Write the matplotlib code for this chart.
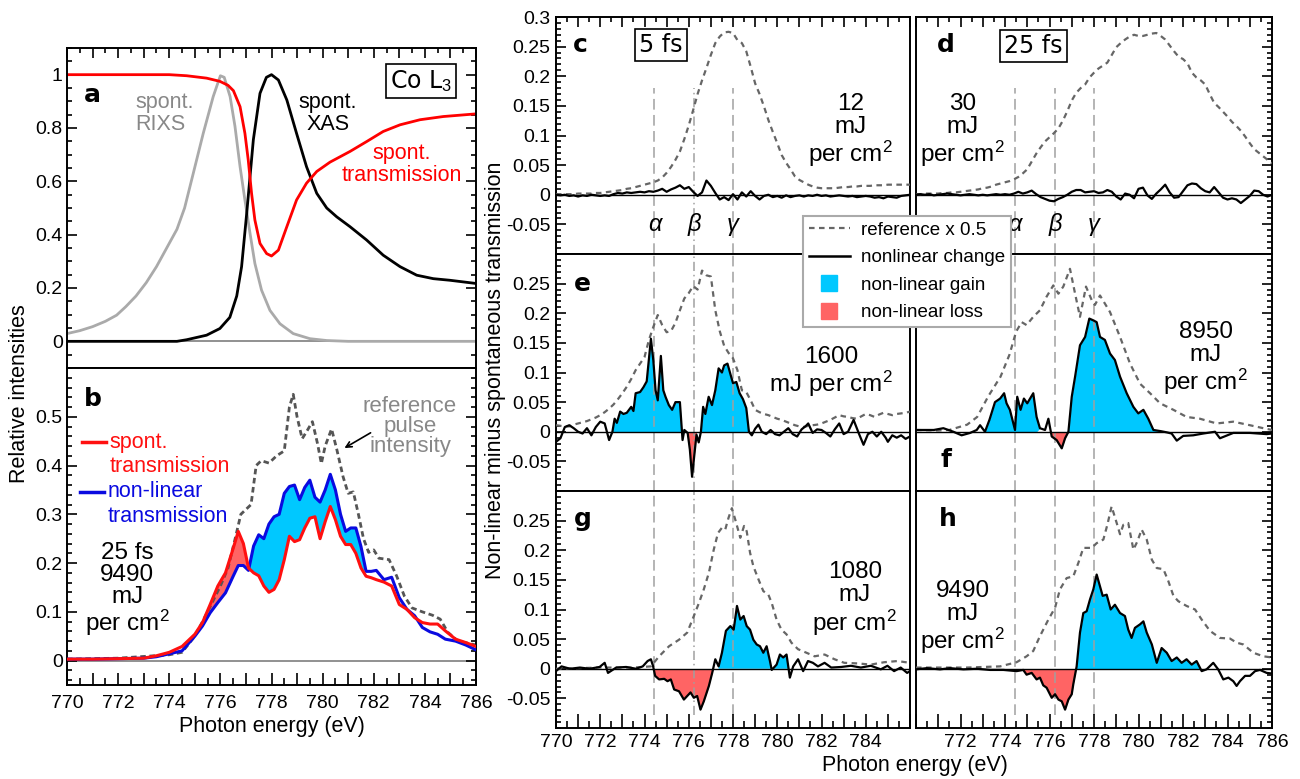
import numpy as np
import matplotlib
matplotlib.use("Agg")
import matplotlib.pyplot as plt
from matplotlib.ticker import MultipleLocator, FixedLocator, FuncFormatter
from matplotlib.lines import Line2D

plt.rcParams['font.family'] = ['Liberation Sans', 'DejaVu Sans']
plt.rcParams['mathtext.fontset'] = 'custom'
plt.rcParams['mathtext.rm'] = 'Liberation Sans'
plt.rcParams['mathtext.it'] = 'Liberation Sans:italic'
plt.rcParams['axes.unicode_minus'] = False
plt.rcParams['axes.linewidth'] = 1.4

GAIN = '#00c8ff'
LOSS = '#ff6464'

# ---------------- panel a: spontaneous spectra (energy eV, relative intensity)
a_rixs = [(770, 0.029), (770.5, 0.04), (771.0, 0.055), (771.5, 0.075), (771.94, 0.098), (772.3, 0.13),
          (772.7, 0.17), (773.1, 0.22), (773.5, 0.28), (773.9, 0.35), (774.3, 0.42), (774.6, 0.50),
          (774.94, 0.63), (775.33, 0.78), (775.72, 0.918), (776.0, 0.996), (776.15, 0.99), (776.38, 0.918),
          (776.57, 0.807), (776.77, 0.655), (776.96, 0.53), (777.16, 0.405), (777.35, 0.292), (777.61, 0.192),
          (777.94, 0.116), (778.33, 0.066), (778.85, 0.029), (779.5, 0.01), (780.16, 0.003), (781.0, 0.0),
          (786, 0.0)]
a_xas = [(770, 0.0), (774.3, 0.0), (774.68, 0.006), (775.46, 0.023), (775.98, 0.048), (776.37, 0.09),
         (776.64, 0.17), (776.83, 0.28), (777.03, 0.48), (777.29, 0.756), (777.55, 0.93), (777.8, 0.99),
         (778.0, 1.0), (778.27, 0.98), (778.6, 0.905), (778.98, 0.78), (779.37, 0.655), (779.77, 0.555),
         (780.16, 0.50), (780.55, 0.467), (781.07, 0.43), (781.72, 0.38), (782.37, 0.323), (783.03, 0.28),
         (783.68, 0.248), (784.33, 0.235), (784.98, 0.229), (786, 0.217)]
a_trans = [(770, 1.0), (774.0, 1.0), (774.68, 0.996), (775.46, 0.987), (775.98, 0.975), (776.3, 0.96),
           (776.51, 0.94), (776.77, 0.88), (776.96, 0.78), (777.09, 0.68), (777.22, 0.555), (777.35, 0.455),
           (777.55, 0.367), (777.81, 0.329), (778.0, 0.32), (778.27, 0.342), (778.6, 0.43), (778.98, 0.53),
           (779.37, 0.593), (779.77, 0.637), (780.29, 0.672), (781.07, 0.712), (781.72, 0.749),
           (782.37, 0.787), (783.03, 0.812), (783.81, 0.831), (784.72, 0.843), (786, 0.853)]

# ---------------- panel b: 25 fs, 9490 mJ/cm2
b_energy = [770, 771, 772, 773, 773.5, 774, 774.5, 775, 775.3, 775.6, 775.9, 776.2, 776.5, 776.7,
            776.9, 777.1, 777.3, 777.5, 777.7, 777.9, 778.1, 778.3, 778.5, 778.7, 778.9, 779.1, 779.3,
            779.5, 779.7, 779.9, 780.1, 780.3, 780.5, 780.7, 780.9, 781.1, 781.3, 781.5, 781.7, 781.9,
            782.1, 782.4, 782.7, 783.0, 783.3, 783.6, 783.9, 784.2, 784.5, 784.8, 785.2, 785.6, 786]
b_spont = [0.003, 0.003, 0.004, 0.005, 0.01, 0.017, 0.029, 0.054, 0.078, 0.115, 0.153, 0.18, 0.23, 0.265,
           0.24, 0.19, 0.18, 0.174, 0.153, 0.14, 0.146, 0.166, 0.207, 0.255, 0.244, 0.248, 0.272,
           0.292, 0.295, 0.25, 0.285, 0.316, 0.289, 0.255, 0.238, 0.238, 0.22, 0.19, 0.173, 0.17,
           0.166, 0.161, 0.153, 0.115, 0.105, 0.088, 0.078, 0.075, 0.075, 0.061, 0.044, 0.037, 0.029]
b_nonlin = [0.003, 0.003, 0.004, 0.005, 0.008, 0.014, 0.02, 0.05, 0.071, 0.098, 0.119, 0.139, 0.173, 0.195,
            0.195, 0.185, 0.235, 0.258, 0.25, 0.28, 0.295, 0.30, 0.343, 0.357, 0.36, 0.33, 0.355,
            0.37, 0.335, 0.325, 0.35, 0.382, 0.35, 0.30, 0.265, 0.272, 0.272, 0.234, 0.183, 0.183,
            0.185, 0.166, 0.171, 0.129, 0.105, 0.092, 0.068, 0.059, 0.054, 0.044, 0.04, 0.032, 0.022]
b_reference = [(770, 0.003), (772, 0.005), (774, 0.012), (774.5, 0.017), (775, 0.05), (775.5, 0.1),
               (776, 0.153), (776.3, 0.19), (776.6, 0.255), (776.8, 0.30), (777.0, 0.31), (777.2, 0.32),
               (777.4, 0.40), (777.6, 0.41), (777.9, 0.405), (778.2, 0.42), (778.5, 0.43), (778.7, 0.52),
               (778.85, 0.546), (779.0, 0.50), (779.2, 0.455), (779.4, 0.472), (779.6, 0.49), (779.8, 0.445),
               (779.95, 0.404), (780.1, 0.44), (780.35, 0.475), (780.55, 0.434), (780.8, 0.377),
               (781.0, 0.343), (781.2, 0.346), (781.4, 0.30), (781.6, 0.25), (781.8, 0.222), (782.0, 0.227),
               (782.2, 0.21), (782.6, 0.207), (782.9, 0.173), (783.2, 0.132), (783.5, 0.108), (783.9, 0.10),
               (784.3, 0.093), (784.6, 0.085), (784.9, 0.058), (785.3, 0.04), (786, 0.032)]

# ---------------- panels c-h: nonlinear minus spontaneous transmission
grid = np.round(np.arange(770.0, 786.01, 0.2), 1)   # 0.2 eV read-out grid for c, d, e-reference

c_reference = [0.001, 0.001, 0.001, 0.001, 0.001, 0.002, 0.002, 0.002, 0.002, 0.003,
               0.003, 0.004, 0.005, 0.006, 0.007, 0.008, 0.010, 0.011, 0.013, 0.015,
               0.017, 0.019, 0.021, 0.024, 0.029, 0.037, 0.047, 0.059, 0.073, 0.094,
               0.117, 0.143, 0.170, 0.193, 0.214, 0.236, 0.256, 0.267, 0.274, 0.275,
               0.273, 0.261, 0.256, 0.242, 0.216, 0.188, 0.170, 0.149, 0.126, 0.106,
               0.087, 0.067, 0.054, 0.043, 0.031, 0.025, 0.021, 0.017, 0.014, 0.012,
               0.011, 0.011, 0.011, 0.011, 0.012, 0.013, 0.013, 0.014, 0.014, 0.015,
               0.015, 0.015, 0.016, 0.016, 0.016, 0.017, 0.017, 0.017, 0.017, 0.017, 0.017]
c_change = [0.0, -0.001, 0.0, -0.002, -0.001, -0.003, -0.001, -0.002, 0.0, -0.001,
            -0.002, -0.001, -0.002, 0.001, 0.003, 0.002, 0.004, 0.003, 0.004, 0.005,
            0.004, 0.006, 0.005, 0.007, 0.010, 0.005, 0.009, 0.012, 0.016, 0.010,
            0.013, 0.005, -0.002, 0.004, 0.024, 0.015, 0.003, -0.008, -0.004, -0.009,
            0.001, -0.008, 0.004, -0.003, 0.006, -0.002, -0.008, -0.002, 0.0, -0.004,
            -0.002, -0.005, -0.001, -0.004, -0.002, -0.001, -0.003, -0.001, -0.002, 0.0,
            -0.002, -0.001, -0.003, -0.002, -0.001, -0.002, -0.003, -0.002, -0.004, -0.003,
            -0.002, -0.003, -0.005, -0.004, -0.006, -0.003, -0.004, -0.005, -0.002, -0.001, 0.0]

d_reference = [0.001, 0.001, 0.002, 0.002, 0.002, 0.002, 0.003, 0.003, 0.004, 0.004,
               0.005, 0.006, 0.007, 0.008, 0.009, 0.011, 0.012, 0.014, 0.017, 0.019,
               0.021, 0.023, 0.026, 0.030, 0.036, 0.043, 0.056, 0.069, 0.080, 0.090,
               0.097, 0.104, 0.112, 0.125, 0.141, 0.159, 0.172, 0.180, 0.186, 0.198,
               0.206, 0.213, 0.218, 0.223, 0.236, 0.249, 0.256, 0.262, 0.267, 0.270,
               0.268, 0.268, 0.270, 0.272, 0.273, 0.268, 0.262, 0.252, 0.242, 0.233,
               0.229, 0.222, 0.206, 0.198, 0.193, 0.186, 0.170, 0.155, 0.148, 0.140,
               0.132, 0.123, 0.116, 0.108, 0.098, 0.087, 0.077, 0.071, 0.065, 0.059, 0.053]
d_change = [0.0, 0.001, 0.0, 0.001, -0.001, 0.0, 0.001, 0.002, 0.001, 0.0,
            -0.001, 0.0, 0.001, 0.0, -0.001, 0.0, -0.001, 0.0, 0.001, 0.0,
            0.001, 0.0, 0.002, 0.005, 0.002, 0.004, 0.007, 0.001, -0.004, -0.007,
            -0.010, -0.011, -0.007, -0.004, 0.0, 0.005, 0.008, 0.008, 0.004, 0.005,
            0.006, 0.003, 0.004, 0.008, 0.005, -0.003, -0.008, 0.002, 0.0, -0.006,
            0.010, 0.012, -0.001, -0.007, 0.002, 0.009, 0.017, 0.004, -0.005, -0.004,
            0.006, 0.016, 0.019, 0.018, 0.011, 0.006, 0.004, 0.013, 0.004, -0.005,
            -0.008, -0.006, -0.008, -0.014, -0.008, -0.002, 0.007, 0.006, 0.0, -0.003, 0.0]

e_reference = [0.011, 0.010, 0.009, 0.009, 0.012, 0.014, 0.016, 0.018, 0.021, 0.024,
               0.028, 0.033, 0.039, 0.046, 0.055, 0.065, 0.076, 0.089, 0.104, 0.115,
               0.126, 0.155, 0.177, 0.197, 0.180, 0.168, 0.170, 0.184, 0.205, 0.225,
               0.234, 0.246, 0.240, 0.272, 0.264, 0.262, 0.205, 0.170, 0.145, 0.133,
               0.124, 0.104, 0.070, 0.067, 0.053, 0.037, 0.033, 0.030, 0.028, 0.025,
               0.022, 0.020, 0.017, 0.014, 0.011, 0.009, 0.008, 0.010, 0.011, 0.012,
               0.014, 0.017, 0.020, 0.024, 0.028, 0.026, 0.025, 0.023, 0.022, 0.026,
               0.030, 0.028, 0.025, 0.029, 0.032, 0.030, 0.028, 0.030, 0.031, 0.032, 0.034]
e_change = [(770.0, -0.017), (770.2, -0.011), (770.4, 0.008), (770.6, 0.011), (770.8, 0.006), (771.0, 0.0),
            (771.2, -0.003), (771.4, 0.006), (771.6, -0.006), (771.8, 0.008), (772.0, 0.017), (772.2, 0.014),
            (772.4, -0.014), (772.55, 0.0), (772.65, 0.022), (772.75, 0.015), (772.9, 0.034), (773.05, 0.03),
            (773.2, 0.032), (773.4, 0.042), (773.5, 0.035), (773.6, 0.065), (773.8, 0.067), (773.95, 0.075),
            (774.1, 0.085), (774.29, 0.157), (774.4, 0.12), (774.5, 0.07), (774.6, 0.053), (774.74, 0.128),
            (774.85, 0.07), (774.95, 0.059), (775.1, 0.045), (775.25, 0.037), (775.4, 0.05), (775.6, 0.05),
            (775.72, -0.014), (775.8, 0.003), (775.95, -0.002), (776.05, -0.03), (776.15, -0.076),
            (776.25, -0.04), (776.35, -0.005), (776.45, -0.018), (776.55, 0.0), (776.65, 0.042),
            (776.75, 0.03), (776.9, 0.059), (777.05, 0.045), (777.2, 0.07), (777.35, 0.107), (777.5, 0.1),
            (777.6, 0.112), (777.75, 0.115), (777.9, 0.095), (778.0, 0.082), (778.15, 0.084), (778.3, 0.065),
            (778.45, 0.055), (778.6, 0.04), (778.72, 0.0), (778.85, -0.006), (779.0, 0.005), (779.15, 0.012),
            (779.3, 0.0), (779.5, -0.004), (779.7, 0.003), (779.9, -0.004), (780.1, -0.006), (780.3, 0.0),
            (780.5, 0.006), (780.7, -0.004), (780.9, -0.008), (781.1, 0.004), (781.3, 0.01), (781.4, 0.014),
            (781.6, -0.002), (781.8, 0.004), (782.0, 0.003), (782.2, -0.002), (782.4, -0.008), (782.6, 0.004),
            (782.8, 0.014), (783.0, -0.004), (783.2, 0.0), (783.45, 0.02), (783.7, -0.004), (783.9, -0.022),
            (784.1, -0.004), (784.3, 0.0), (784.5, -0.008), (784.7, 0.0), (784.9, -0.01), (785.0, -0.017),
            (785.2, -0.006), (785.4, -0.01), (785.6, -0.006), (785.8, -0.012), (786.0, -0.008)]

f_reference = [(770, 0.003), (771, 0.002), (771.5, 0.003), (772.3, 0.012), (772.75, 0.025), (773.25, 0.06),
               (773.8, 0.093), (774.2, 0.13), (774.5, 0.169), (774.75, 0.185), (774.97, 0.18), (775.27, 0.194),
               (775.57, 0.205), (775.87, 0.228), (776.17, 0.247), (776.4, 0.233), (776.62, 0.245),
               (776.92, 0.275), (777.15, 0.233), (777.37, 0.194), (777.64, 0.245), (777.9, 0.222),
               (778.04, 0.214), (778.27, 0.23), (778.72, 0.202), (779.17, 0.16), (779.62, 0.115),
               (780.07, 0.081), (780.52, 0.065), (780.97, 0.048), (781.57, 0.037), (782.16, 0.025),
               (782.76, 0.022), (783.51, 0.014), (784.26, 0.017), (785.01, 0.011), (785.61, 0.006), (786, 0.003)]
f_change = [(770, 0.003), (770.8, 0.003), (771.23, 0.006), (771.68, 0.0), (772.05, -0.006), (772.43, -0.002),
            (772.73, 0.003), (772.88, 0.011), (773.1, 0.0), (773.3, 0.02), (773.55, 0.05), (773.78, 0.056),
            (773.96, 0.065), (774.07, 0.048), (774.22, 0.037), (774.45, 0.003), (774.55, 0.059), (774.7, 0.037),
            (774.85, 0.056), (775.0, 0.048), (775.27, 0.065), (775.42, 0.025), (775.57, 0.006), (775.8, 0.003),
            (775.95, 0.022), (776.1, -0.008), (776.32, -0.014), (776.55, -0.028), (776.7, -0.011),
            (776.85, 0.0), (777.0, 0.059), (777.15, 0.093), (777.37, 0.146), (777.6, 0.16), (777.79, 0.191),
            (777.97, 0.188), (778.12, 0.185), (778.27, 0.16), (778.49, 0.155), (778.72, 0.132),
            (778.94, 0.121), (779.17, 0.093), (779.47, 0.065), (779.77, 0.042), (779.99, 0.031),
            (780.22, 0.037), (780.44, 0.022), (780.67, 0.003), (781.0, 0.001), (781.27, -0.001),
            (781.49, -0.003), (781.72, -0.015), (782.01, -0.007), (782.46, -0.006), (782.91, -0.003),
            (783.44, 0.0), (783.66, -0.011), (784.26, -0.002), (785.01, -0.002), (785.76, -0.004), (786, -0.003)]

g_reference = [(770, 0.0), (772, 0.002), (773.5, 0.002), (774.29, 0.004), (774.66, 0.021), (775.11, 0.038),
               (775.56, 0.049), (775.93, 0.061), (776.23, 0.089), (776.46, 0.111), (776.68, 0.134),
               (776.91, 0.162), (777.13, 0.201), (777.32, 0.229), (777.5, 0.238), (777.65, 0.235),
               (777.8, 0.255), (777.95, 0.271), (778.1, 0.252), (778.33, 0.221), (778.5, 0.241),
               (778.62, 0.232), (778.77, 0.196), (778.92, 0.173), (779.15, 0.151), (779.37, 0.131),
               (779.6, 0.125), (779.75, 0.111), (779.97, 0.083), (780.19, 0.066), (780.42, 0.058),
               (780.64, 0.044), (780.94, 0.033), (781.32, 0.027), (781.69, 0.021), (782.14, 0.024),
               (782.59, 0.016), (783.03, 0.01), (783.63, 0.009), (784.23, 0.007), (784.83, 0.011),
               (785.43, 0.013), (786, 0.01)]
g_change = [(770, -0.004), (770.25, 0.004), (770.63, 0.0), (771.08, 0.002), (771.52, 0.0), (771.97, 0.003),
            (772.2, 0.01), (772.35, -0.007), (772.72, 0.002), (773.17, 0.003), (773.62, 0.0), (773.92, 0.004),
            (774.14, 0.013), (774.29, 0.016), (774.39, 0.004), (774.48, -0.012), (774.66, -0.018),
            (774.89, -0.017), (775.04, -0.021), (775.19, -0.018), (775.34, -0.035), (775.56, -0.038),
            (775.78, -0.052), (775.93, -0.046), (776.08, -0.04), (776.23, -0.049), (776.38, -0.046),
            (776.53, -0.069), (776.68, -0.055), (776.91, -0.029), (777.06, -0.007), (777.2, 0.016),
            (777.35, 0.004), (777.5, 0.027), (777.68, 0.064), (777.88, 0.072), (778.03, 0.066),
            (778.18, 0.106), (778.33, 0.083), (778.48, 0.089), (778.62, 0.072), (778.77, 0.066),
            (778.92, 0.049), (779.07, 0.041), (779.22, 0.038), (779.37, 0.027), (779.52, 0.038),
            (779.67, 0.013), (779.75, -0.002), (779.97, 0.007), (780.12, 0.024), (780.27, 0.019),
            (780.42, 0.024), (780.57, -0.015), (780.72, 0.004), (780.94, 0.016), (781.17, -0.004),
            (781.39, 0.013), (781.61, 0.01), (781.84, 0.004), (782.14, 0.01), (782.44, 0.002), (782.89, 0.003),
            (783.33, 0.005), (783.78, 0.002), (784.23, 0.005), (784.68, -0.001), (784.98, 0.005),
            (785.28, -0.004), (785.58, 0.002), (785.87, -0.007), (786, -0.004)]

h_reference = [(770, 0.002), (772.28, 0.002), (773.78, 0.004), (774.52, 0.011), (774.97, 0.021), (775.27, 0.03),
               (775.57, 0.055), (775.95, 0.083), (776.25, 0.103), (776.47, 0.134), (776.77, 0.153),
               (777.07, 0.156), (777.3, 0.179), (777.52, 0.204), (777.9, 0.204), (778.12, 0.212),
               (778.42, 0.218), (778.6, 0.243), (778.79, 0.274), (779.02, 0.246), (779.17, 0.227),
               (779.32, 0.243), (779.54, 0.246), (779.77, 0.201), (779.95, 0.215), (780.14, 0.235),
               (780.37, 0.218), (780.6, 0.184), (780.82, 0.17), (781.12, 0.168), (781.34, 0.148),
               (781.57, 0.123), (781.79, 0.114), (782.16, 0.106), (782.54, 0.1), (782.84, 0.083),
               (783.21, 0.064), (783.66, 0.052), (784.11, 0.051), (784.41, 0.044), (784.71, 0.041),
               (785.16, 0.027), (785.61, 0.021), (786, 0.019)]
h_change = [(770, -0.001), (770.48, 0.001), (771.08, -0.001), (771.53, 0.001), (772.13, -0.001), (772.73, 0.0),
            (773.33, -0.002), (773.93, -0.002), (774.52, -0.004), (774.82, -0.002), (774.97, -0.01),
            (775.2, -0.007), (775.42, -0.018), (775.57, -0.015), (775.72, -0.028), (775.87, -0.032),
            (776.1, -0.049), (776.25, -0.043), (776.4, -0.052), (776.55, -0.055), (776.7, -0.069),
            (776.85, -0.052), (777.0, -0.043), (777.07, -0.026), (777.22, 0.004), (777.37, 0.061),
            (777.52, 0.094), (777.67, 0.097), (777.82, 0.117), (777.97, 0.134), (778.12, 0.159),
            (778.27, 0.139), (778.39, 0.123), (778.57, 0.125), (778.75, 0.1), (778.94, 0.108),
            (779.17, 0.094), (779.39, 0.089), (779.54, 0.066), (779.69, 0.052), (779.84, 0.069),
            (780.07, 0.075), (780.22, 0.08), (780.37, 0.061), (780.6, 0.041), (780.82, 0.01), (781.04, 0.035),
            (781.27, 0.027), (781.49, 0.013), (781.72, 0.019), (781.94, 0.01), (782.16, 0.016),
            (782.39, 0.007), (782.61, 0.013), (782.84, -0.004), (783.06, -0.001), (783.36, 0.01),
            (783.58, -0.001), (783.81, -0.018), (784.04, -0.015), (784.26, -0.021), (784.41, -0.029),
            (784.56, -0.021), (784.79, -0.012), (785.01, -0.012), (785.24, -0.004), (785.46, -0.002),
            (785.76, -0.007), (786, -0.008)]

# resonance markers alpha, beta, gamma (eV)
resonances = [774.45, 776.25, 778.0]
resonance_names = ['α', 'β', 'γ']

# energy spans (eV) that the authors shaded as gain / loss
gain_spans = {'e': [(772.5, 775.65), (776.5, 778.8)], 'f': [(773.2, 775.5), (776.8, 780.7)],
              'g': [(777.35, 780.5)], 'h': [(777.2, 782.9)]}
loss_spans = {'e': [(775.9, 776.4)], 'f': [(776.0, 776.85)], 'g': [(774.4, 777.15)], 'h': [(774.0, 777.25)]}


def unzip(pairs):
    arr = np.array(pairs, dtype=float)
    return arr[:, 0], arr[:, 1]


def px_axes(fig, left, top, right, bottom):
    # axes rectangle given in pixels of the 1300 x 779 canvas
    return fig.add_axes([left / 1300, 1 - bottom / 779, (right - left) / 1300, (bottom - top) / 779])


def energy_formatter(shown):
    return FuncFormatter(lambda v, p: f"{v:.0f}" if int(round(v)) in shown else "")


def setup_ticks(ax, left=False, right=False, top=False, bottom=False):
    ax.tick_params(which='both', direction='in', left=left, right=right, top=top, bottom=bottom,
                   labelleft=False, labelbottom=False, width=1.2, labelsize=14)
    ax.tick_params(which='major', length=7)
    ax.tick_params(which='minor', length=3.5)


def shade(ax, e, v, gains, losses):
    for lo, hi in gains:
        m = (e >= lo) & (e <= hi)
        ax.fill_between(e, v, 0, where=m & (v >= 0), color=GAIN, lw=0, interpolate=True, zorder=1)
    for lo, hi in losses:
        m = (e >= lo) & (e <= hi)
        ax.fill_between(e, v, 0, where=m & (v <= 0), color=LOSS, lw=0, interpolate=True, zorder=1)


fig = plt.figure(figsize=(13, 7.79), dpi=100)
letter_font = dict(family='DejaVu Sans', weight='bold', size=18)
box = dict(boxstyle='square,pad=0.18', fc='white', ec='black', lw=1.2)

# ---------------- panel a
ax_a = px_axes(fig, 67, 48, 476, 368)
ax_a.axhline(0, color='#888888', lw=1.3, zorder=1)
e, v = unzip(a_rixs)
ax_a.plot(e, v, color='#aaaaaa', lw=2)
e, v = unzip(a_xas)
ax_a.plot(e, v, color='black', lw=2)
e, v = unzip(a_trans)
ax_a.plot(e, v, color='#ff0000', lw=2)
ax_a.set_xlim(770, 786)
ax_a.set_ylim(-0.1, 1.1)
setup_ticks(ax_a, left=True, right=True, top=True)
ax_a.tick_params(labelleft=True, pad=3)
ax_a.yaxis.set_major_locator(FixedLocator([0, 0.2, 0.4, 0.6, 0.8, 1.0]))
ax_a.yaxis.set_major_formatter(FuncFormatter(lambda v, p: f"{v:g}"))
ax_a.yaxis.set_minor_locator(MultipleLocator(0.05))
ax_a.xaxis.set_major_locator(MultipleLocator(1))
ax_a.xaxis.set_minor_locator(MultipleLocator(0.5))
ax_a.text(770.98, 0.925, 'a', ha='center', va='center', **letter_font)
ax_a.text(772.66, 0.855, 'spont.\nRIXS', color='#888888', fontsize=15.5, ha='left', va='center', linespacing=1.05)
ax_a.text(780.2, 0.855, 'spont.\nXAS', color='black', fontsize=15.5, ha='center', va='center', linespacing=1.05)
ax_a.text(783.1, 0.664, 'spont.\ntransmission', color='#ff0000', fontsize=15.5, ha='center', va='center',
          linespacing=1.05)
ax_a.text(783.85, 0.976, 'Co L$_3$', family='DejaVu Sans', fontsize=17, ha='center', va='center', bbox=box)

# ---------------- panel b
ax_b = px_axes(fig, 67, 368, 476, 685)
ax_b.axhline(0, color='#888888', lw=1.3, zorder=1)
be = np.array(b_energy)
bs = np.array(b_spont)
bn = np.array(b_nonlin)
ax_b.fill_between(be, bn, bs, where=(bn >= bs) & (be >= 777.0) & (be <= 781.6), color=GAIN, lw=0,
                  interpolate=True, zorder=1)
ax_b.fill_between(be, bs, bn, where=(bs >= bn) & (be >= 775.4) & (be <= 777.3), color=LOSS, lw=0,
                  interpolate=True, zorder=1)
e, v = unzip(b_reference)
ax_b.plot(e, v, color='#555555', lw=2, ls=(0, (2, 1.3)), zorder=2)
ax_b.plot(be, bn, color='#0a0ae0', lw=2.2, zorder=3)
ax_b.plot(be, bs, color='#ff1010', lw=2.2, zorder=4)
ax_b.set_xlim(770, 786)
ax_b.set_ylim(-0.05, 0.6)
setup_ticks(ax_b, left=True, right=True, bottom=True)
ax_b.tick_params(labelleft=True, labelbottom=True)
ax_b.tick_params(axis='y', pad=3)
ax_b.tick_params(axis='x', pad=7)
ax_b.tick_params(axis='x', which='major', length=9)
ax_b.tick_params(axis='x', which='minor', length=5)
ax_b.yaxis.set_major_locator(FixedLocator([0, 0.1, 0.2, 0.3, 0.4, 0.5]))
ax_b.yaxis.set_major_formatter(FuncFormatter(lambda v, p: f"{v:g}"))
ax_b.yaxis.set_minor_locator(MultipleLocator(0.02))
ax_b.xaxis.set_major_locator(FixedLocator(list(range(770, 787))))
ax_b.xaxis.set_major_formatter(energy_formatter(range(770, 787, 2)))
ax_b.xaxis.set_minor_locator(MultipleLocator(0.5))
ax_b.text(771.0, 0.537, 'b', ha='center', va='center', **letter_font)
ax_b.text(783.42, 0.48, 'reference\npulse\nintensity', color='#888888', fontsize=16, ha='center', va='center',
          linespacing=0.95)
ax_b.annotate('', xy=(780.76, 0.433), xytext=(781.97, 0.47),
              arrowprops=dict(arrowstyle='->', color='black', lw=1.2))
ax_b.plot([770.59, 771.53], [0.449, 0.449], color='#ff1010', lw=2.5)
ax_b.text(771.68, 0.4226, 'spont.\ntransmission', color='#ff1010', fontsize=15.5, ha='left', va='center')
ax_b.plot([770.5, 771.45], [0.3456, 0.3456], color='#0a0ae0', lw=2.5)
ax_b.text(771.6, 0.3212, 'non-linear\ntransmission', color='#0a0ae0', fontsize=15.5, ha='left', va='center')
ax_b.text(772.35, 0.144, '25 fs\n9490\nmJ\nper cm$^2$', fontsize=17.5, ha='center', va='center', linespacing=1.0)
ax_b.set_xlabel('Photon energy (eV)', fontsize=15.5, labelpad=3)

fig.text(20 / 1300, 1 - 394 / 779, 'Relative intensities', rotation=90, fontsize=15.5, ha='center', va='center')

# ---------------- panels c-h
cols = [(556, 910), (916, 1272)]
rows = [(17, 254), (254, 491), (491, 728)]
names = [['c', 'd'], ['e', 'f'], ['g', 'h']]
reference = {'c': (grid, np.array(c_reference)), 'd': (grid, np.array(d_reference)),
             'e': (grid, np.array(e_reference)), 'f': unzip(f_reference),
             'g': unzip(g_reference), 'h': unzip(h_reference)}
change = {'c': (grid, np.array(c_change)), 'd': (grid, np.array(d_change)),
          'e': unzip(e_change), 'f': unzip(f_change), 'g': unzip(g_change), 'h': unzip(h_change)}
axes = {}
for r, (top, bottom) in enumerate(rows):
    for c, (left, right) in enumerate(cols):
        name = names[r][c]
        ax = px_axes(fig, left, top, right, bottom)
        axes[name] = ax
        ax.set_xlim(770, 786)
        ax.set_ylim(-0.1, 0.3)
        ax.axhline(0, color='black', lw=1.0, zorder=2)

        # resonance guide lines run continuously from panel c/d down into g/h
        lo = -0.1 if r < 2 else -0.078
        hi = 0.18 if r == 0 else 0.3
        for k, x0 in enumerate(resonances):
            ls = (0, (6, 2.5, 1, 2.5)) if (k == 1 and c == 0) else (0, (7, 3.5))
            ax.plot([x0, x0], [lo, hi], color='#a0a0a0', lw=1.1, ls=ls, zorder=1.5)

        e, v = change[name]
        if name in gain_spans:
            shade(ax, e, v, gain_spans[name], loss_spans[name])
        er, vr = reference[name]
        ax.plot(er, vr, color='#666666', lw=1.6, ls=(0, (2.5, 2)), zorder=3)
        ax.plot(e, v, color='black', lw=1.6, zorder=4)

        setup_ticks(ax, left=(c == 0), right=(c == 1), top=(r == 0), bottom=(r == 2))
        majors = [-0.05, 0, 0.05, 0.1, 0.15, 0.2, 0.25] + ([0.3] if r == 0 else [])
        ax.yaxis.set_major_locator(FixedLocator(majors))
        ax.yaxis.set_major_formatter(FuncFormatter(lambda v, p: f"{v:g}"))
        ax.yaxis.set_minor_locator(MultipleLocator(0.01))
        ax.xaxis.set_major_locator(FixedLocator(list(range(770, 787))))
        ax.xaxis.set_minor_locator(MultipleLocator(0.5))
        if c == 0:
            ax.tick_params(labelleft=True, pad=4)
        if r == 2:
            shown = range(770, 785, 2) if c == 0 else range(772, 787, 2)
            ax.xaxis.set_major_formatter(energy_formatter(shown))
            ax.tick_params(labelbottom=True)
            ax.tick_params(axis='x', pad=4)
            ax.tick_params(axis='x', which='major', length=10)
            ax.tick_params(axis='x', which='minor', length=5)
        if r == 0:
            for x0, g in zip(resonances, resonance_names):
                ax.text(x0, -0.05, g, fontsize=17, style='italic', ha='center', va='center')

tfs = 17.5
axes['c'].text(771.08, 0.253, 'c', ha='center', va='center', **letter_font)
axes['c'].text(774.75, 0.253, '5 fs', family='DejaVu Sans', fontsize=17, ha='center', va='center', bbox=box)
axes['c'].text(783.32, 0.108, '12\nmJ\nper cm$^2$', fontsize=tfs, ha='center', va='center', linespacing=1.05)

axes['d'].text(771.35, 0.253, 'd', ha='center', va='center', **letter_font)
axes['d'].text(775.26, 0.251, '25 fs', family='DejaVu Sans', fontsize=17, ha='center', va='center', bbox=box)
axes['d'].text(772.11, 0.108, '30\nmJ\nper cm$^2$', fontsize=tfs, ha='center', va='center', linespacing=1.05)

axes['e'].text(771.2, 0.25, 'e', ha='center', va='center', **letter_font)
axes['e'].text(782.42, 0.1, '1600\nmJ per cm$^2$', fontsize=tfs, ha='center', va='center', linespacing=1.05)

axes['f'].text(771.35, -0.048, 'f', ha='center', va='center', **letter_font)
axes['f'].text(783.03, 0.123, '8950\nmJ\nper cm$^2$', fontsize=tfs, ha='center', va='center', linespacing=1.05)

axes['g'].text(771.2, 0.252, 'g', ha='center', va='center', **letter_font)
axes['g'].text(783.5, 0.117, '1080\nmJ\nper cm$^2$', fontsize=tfs, ha='center', va='center', linespacing=1.05)

axes['h'].text(771.44, 0.252, 'h', ha='center', va='center', **letter_font)
axes['h'].text(772.11, 0.085, '9490\nmJ\nper cm$^2$', fontsize=tfs, ha='center', va='center', linespacing=1.05)

fig.text(495 / 1300, 1 - 370 / 779, 'Non-linear minus spontaneous transmission', rotation=90, fontsize=15.5,
         ha='center', va='center')
fig.text(915 / 1300, 1 - 766 / 779, 'Photon energy (eV)', fontsize=15.5, ha='center', va='center')

handles = [Line2D([], [], color='#666666', lw=1.6, ls=(0, (2.5, 2))),
           Line2D([], [], color='black', lw=1.8),
           Line2D([], [], ls='none', marker='s', ms=12, mfc=GAIN, mec=GAIN),
           Line2D([], [], ls='none', marker='s', ms=12, mfc=LOSS, mec=LOSS)]
labels = ['reference x 0.5', 'nonlinear change', 'non-linear gain', 'non-linear loss']
leg = fig.legend(handles, labels, loc='upper left', bbox_to_anchor=(803 / 1300, 1 - 216 / 779),
                 fontsize=13.5, frameon=True, fancybox=False, edgecolor='#aaaaaa', framealpha=1,
                 handlelength=2.2, borderpad=0.3, labelspacing=0.55, handletextpad=0.6, borderaxespad=0)
leg.get_frame().set_linewidth(1.5)

fig.savefig('out.png', dpi=100)
